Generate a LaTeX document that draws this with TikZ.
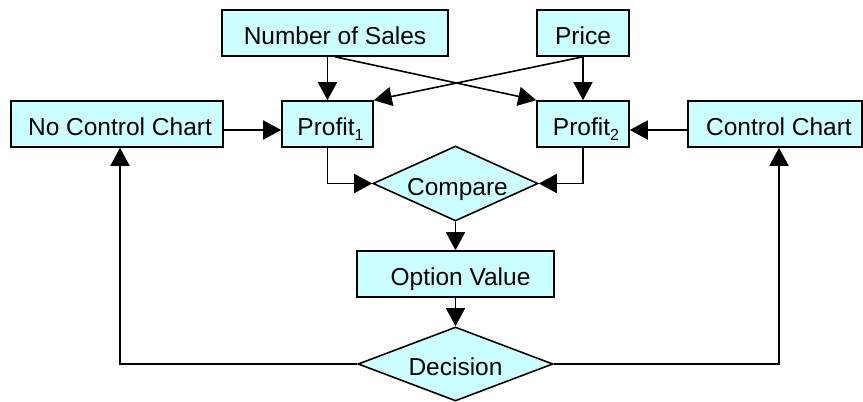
\documentclass[tikz,border=0pt]{standalone}
\usepackage{fontspec}
\setmainfont{Liberation Sans}
\usetikzlibrary{arrows.meta,shapes.geometric}
\definecolor{boxfill}{HTML}{CCFFFF}
\newcommand{\sub}[1]{\raisebox{-4.5pt}{\fontsize{16}{16}\selectfont #1}}
\begin{document}
\begin{tikzpicture}[x=1pt,y=-1pt,
  every node/.style={font=\fontsize{24.5}{28}\selectfont, text height=23pt, text depth=0pt, inner sep=0pt},
  box/.style={draw, line width=1.6pt, fill=boxfill, rectangle, minimum height=46pt},
  dia/.style={draw, line width=1.6pt, fill=boxfill, diamond, aspect=2.2},
  link/.style={line width=1.6pt, -{Triangle[length=18pt,width=19pt]}},
  wire/.style={line width=1.6pt}]
  \useasboundingbox (0,0) rectangle (863,402);

  % input boxes
  \node[box, minimum width=226pt] (sales) at (335,33) {Number of Sales};
  \node[box, minimum width=92pt]  (price) at (583,33) {Price};

  % option boxes and profits
  \node[box, minimum width=212pt] (nocc) at (117,124) {\hspace*{6pt}No Control Chart};
  \node[box, minimum width=91pt]  (p1)   at (327.5,124) {\hspace*{6pt}Profit\sub{1}};
  \node[box, minimum width=92pt]  (p2)   at (583,124) {\hspace*{6pt}Profit\sub{2}};
  \node[box, minimum width=174pt] (cc)   at (775,124) {\hspace*{8pt}Control Chart};

  % comparison and decision
  \node[dia, minimum width=165pt, minimum height=75pt] (cmp) at (455.5,183.5) {\hspace*{4pt}Compare};
  \node[box, minimum width=197pt] (ov)  at (455.5,274) {\hspace*{10pt}Option Value};
  \node[dia, minimum width=195pt, minimum height=74pt, aspect=2.6] (dec) at (455.5,364) {Decision};

  % inputs to profits
  \draw[link] (p1.north |- sales.south) -- (p1.north);
  \draw[link] (sales.south) -- (p2.north west);
  \draw[link] (price.south) -- (p1.north east);
  \draw[link] (price.south) -- (p2.north);

  % options to profits
  \draw[link] ([yshift=-6pt]nocc.east) -- ([yshift=-6pt]p1.west);
  \draw[link] ([yshift=-6pt]cc.west) -- ([yshift=-6pt]p2.east);

  % profits to comparison
  \draw[link] (p1.south) |- (cmp.west);
  \draw[link] (p2.south) |- (cmp.east);

  % comparison chain
  \draw[link] (cmp.south) -- (ov.north);
  \draw[link] (ov.south) -- (dec.north);

  % decision feeds back to the options
  \draw[link] (dec.west) -| ([xshift=3pt]nocc.south);
  \draw[link] (dec.east) -| ([xshift=4pt]cc.south);
\end{tikzpicture}
\end{document}
